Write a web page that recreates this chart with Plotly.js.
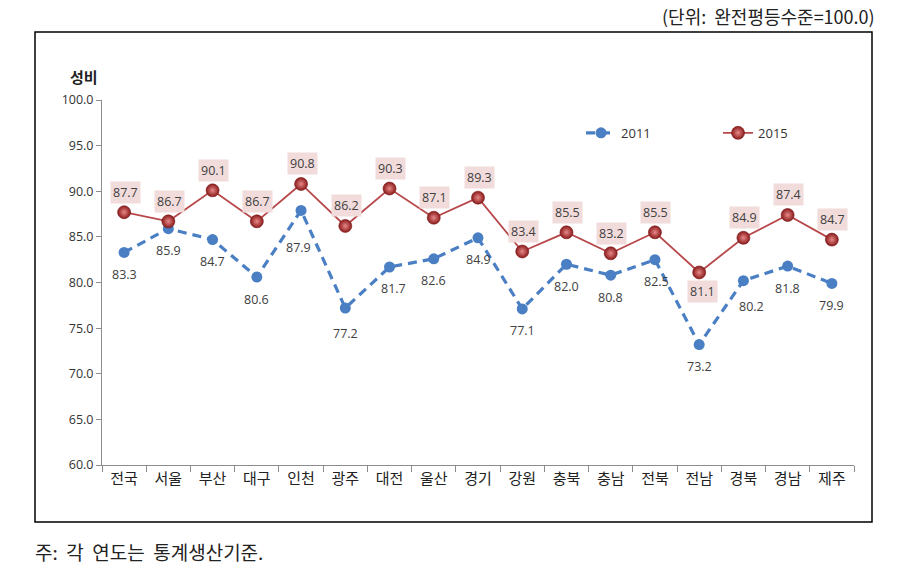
<!DOCTYPE html>
<html>
<head>
<meta charset="utf-8">
<script src="https://cdn.plot.ly/plotly-3.0.1.min.js"></script>
<style>
html,body{margin:0;padding:0;background:#fff;}
#chart{width:909px;height:583px;}
</style>
</head>
<body>
<div id="chart"></div>
<script>
const regions = ['전국','서울','부산','대구','인천','광주','대전','울산','경기','강원','충북','충남','전북','전남','경북','경남','제주'];
const ratio2011 = [83.3,85.9,84.7,80.6,87.9,77.2,81.7,82.6,84.9,77.1,82.0,80.8,82.5,73.2,80.2,81.8,79.9];
const ratio2015 = [87.7,86.7,90.1,86.7,90.8,86.2,90.3,87.1,89.3,83.4,85.5,83.2,85.5,81.1,84.9,87.4,84.7];
const seriesNames = ['2011','2015'];
const yTicks = [60,65,70,75,80,85,90,95,100];

const labelFont = {family:'"Open Sans","Noto Sans CJK KR",sans-serif', size:12.5, color:'#404040'};
const kor = '"Noto Sans CJK KR","Noto Sans",sans-serif';

const traces = [
  {
    x: regions, y: ratio2011, name: seriesNames[0], type:'scatter', mode:'lines+markers',
    line:{color:'#4a7fc4', width:3.2, dash:'9px,6px'},
    marker:{color:'#4a7fc4', size:11, line:{width:0}},
    hoverinfo:'x+y'
  },
  {
    x: regions, y: ratio2015, name: seriesNames[1], type:'scatter', mode:'lines+markers',
    line:{color:'#b8474a', width:1.8},
    marker:{color:'#8a1a1a', size:13, gradient:{type:'radial', color:'#e88888'}, line:{color:'#7a1515', width:0.6}},
    hoverinfo:'x+y'
  }
];

const annotations = [];
// 2015 labels: above with pink box (전남 below)
regions.forEach((r,i)=>{
  const below = (r === '전남');
  annotations.push({
    x: r, y: ratio2015[i], xref:'x', yref:'y', text: ratio2015[i].toFixed(1),
    showarrow:false, font:labelFont, bgcolor:'#f2dcdb', borderpad:2,
    yshift: below ? -19 : 20, xshift: below ? 3 : 1
  });
});
// 2011 labels: below
regions.forEach((r,i)=>{
  let ys = -22, xs = 0;
  if (r === '인천') { ys = -37; xs = -3; }
  if (r === '광주') { ys = -25; }
  if (r === '대전') { xs = 4; }
  if (r === '경북') { ys = -26; xs = 8; }
  if (r === '전북') { xs = 2; }
  annotations.push({
    x: r, y: ratio2011[i], xref:'x', yref:'y', text: ratio2011[i].toFixed(1),
    showarrow:false, font:labelFont, yshift: ys, xshift: xs
  });
});
// y-axis title
annotations.push({
  xref:'paper', yref:'paper', x:0, y:1.065, xanchor:'right', yanchor:'middle', xshift:-2,
  text:'<b>성비</b>', showarrow:false, font:{family:kor, size:15, color:'#222'}
});
// unit note
annotations.push({
  xref:'paper', yref:'paper', x:1.03, y:1.23, xanchor:'right', yanchor:'middle',
  text:'(단위:&nbsp;&nbsp;완전평등수준=100.0)', showarrow:false, font:{family:kor, size:18, color:'#222'}
});
// footnote
annotations.push({
  xref:'paper', yref:'paper', x:-0.092, y:-0.238, xanchor:'left', yanchor:'middle',
  text:'주:&nbsp;&nbsp;각&nbsp;&nbsp;연도는&nbsp;&nbsp;통계생산기준.', showarrow:false, font:{family:kor, size:19, color:'#222'}
});

const layout = {
  width:909, height:583,
  margin:{l:102, r:55, t:100, b:118, autoexpand:false},
  paper_bgcolor:'#fff', plot_bgcolor:'#fff',
  showlegend:true,
  legend:{orientation:'h', x:0.637, y:0.91, xanchor:'left', yanchor:'middle',
          font:{family:'"Open Sans",sans-serif', size:13, color:'#333'},
          entrywidth:92, entrywidthmode:'pixels', bgcolor:'rgba(0,0,0,0)'},
  xaxis:{
    type:'category', range:[-0.5, 16.5], showline:true, linecolor:'#8c8c8c', linewidth:1,
    ticks:'outside', tickson:'boundaries', ticklen:6, tickcolor:'#8c8c8c',
    showgrid:false, zeroline:false, fixedrange:true,
    tickfont:{family:kor, size:15, color:'#222'}
  },
  yaxis:{
    range:[60,100], tickvals:yTicks, ticktext:yTicks.map(v=>v.toFixed(1)),
    showline:true, linecolor:'#8c8c8c', linewidth:1, ticks:'outside', ticklen:5, tickcolor:'#8c8c8c',
    showgrid:false, zeroline:false, fixedrange:true,
    tickfont:{family:'"Open Sans",sans-serif', size:12.5, color:'#333'}
  },
  shapes:[{
    type:'rect', xref:'paper', yref:'paper',
    x0:(35-102)/752, x1:(872-102)/752, y0:(465-522)/365, y1:(465-32)/365,
    line:{color:'#000', width:1.5}, fillcolor:'rgba(0,0,0,0)', layer:'below'
  }],
  annotations: annotations
};

Plotly.newPlot('chart', traces, layout, {displayModeBar:false, staticPlot:true});
</script>
</body>
</html>
